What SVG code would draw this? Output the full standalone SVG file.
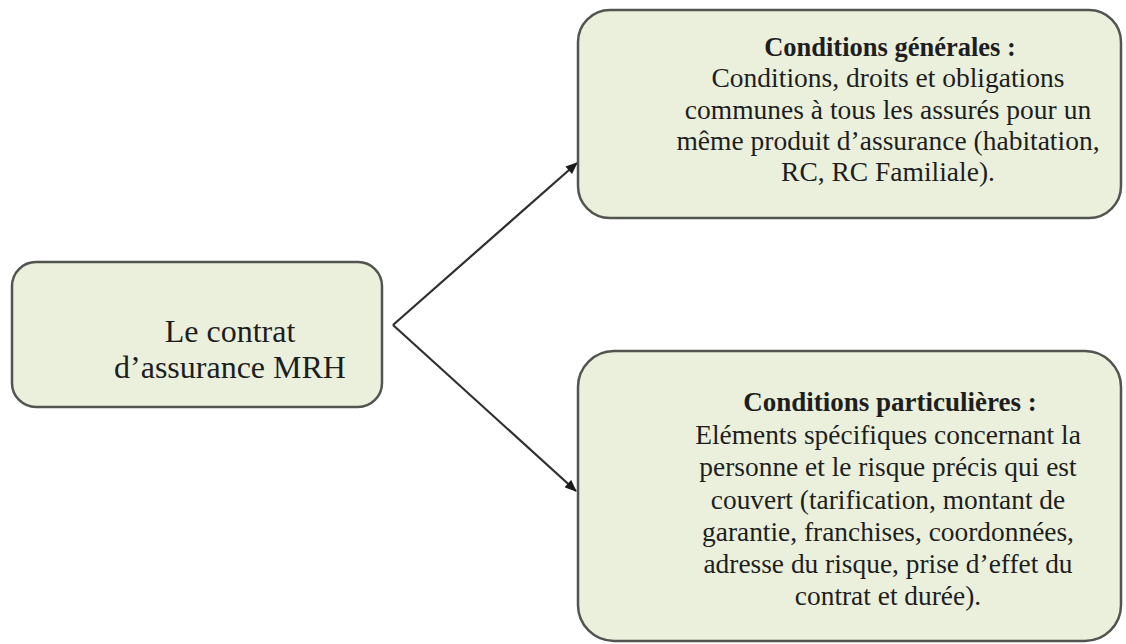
<svg xmlns="http://www.w3.org/2000/svg" width="1126" height="644" viewBox="0 0 1126 644">
  <style>
    .box { fill: #eaf0dc; stroke: #52554f; stroke-width: 2.5; }
    .t { font-family: "Liberation Serif", "Times New Roman", serif; fill: #1e1e1e; text-anchor: middle; }
    .b { font-weight: bold; }
    .link { stroke: #2e2e2e; stroke-width: 2.2; fill: none; }
  </style>
  <defs>
    <marker id="arrow" viewBox="0 0 12 10" refX="11" refY="5" markerWidth="13" markerHeight="10" markerUnits="userSpaceOnUse" orient="auto">
      <path d="M0,0 L12,5 L0,10 z" fill="#1a1a1a"/>
    </marker>
  </defs>
  <rect width="1126" height="644" fill="#ffffff"/>

  <g id="connectors">
    <line class="link" x1="393" y1="325" x2="577" y2="163" marker-end="url(#arrow)"/>
    <line class="link" x1="393" y1="325" x2="576" y2="491" marker-end="url(#arrow)"/>
  </g>

  <g id="contrat">
    <rect class="box" x="12" y="262" width="370" height="145" rx="24" ry="24"/>
    <text class="t" font-size="32" x="230" y="342">Le contrat</text>
    <text class="t" font-size="32" x="230" y="378">d’assurance MRH</text>
  </g>

  <g id="conditions-generales">
    <rect class="box" x="578" y="10" width="543" height="208" rx="32" ry="32"/>
    <text class="t b" font-size="26.5" x="890" y="56">Conditions générales :</text>
    <text class="t" font-size="27.5" x="888" y="87">Conditions, droits et obligations</text>
    <text class="t" font-size="27.5" x="888" y="119">communes à tous les assurés pour un</text>
    <text class="t" font-size="27.5" x="888" y="150">même produit d’assurance (habitation,</text>
    <text class="t" font-size="27.5" x="888" y="181">RC, RC Familiale).</text>
  </g>

  <g id="conditions-particulieres">
    <rect class="box" x="578" y="351" width="543" height="290" rx="36" ry="36"/>
    <text class="t b" font-size="27" x="890" y="411">Conditions particulières :</text>
    <text class="t" font-size="27.4" x="888" y="444">Eléments spécifiques concernant la</text>
    <text class="t" font-size="27.4" x="888" y="476">personne et le risque précis qui est</text>
    <text class="t" font-size="27.4" x="888" y="509">couvert (tarification, montant de</text>
    <text class="t" font-size="27.4" x="888" y="541">garantie, franchises, coordonnées,</text>
    <text class="t" font-size="27.4" x="888" y="573">adresse du risque, prise d’effet du</text>
    <text class="t" font-size="27.4" x="888" y="605">contrat et durée).</text>
  </g>
</svg>
